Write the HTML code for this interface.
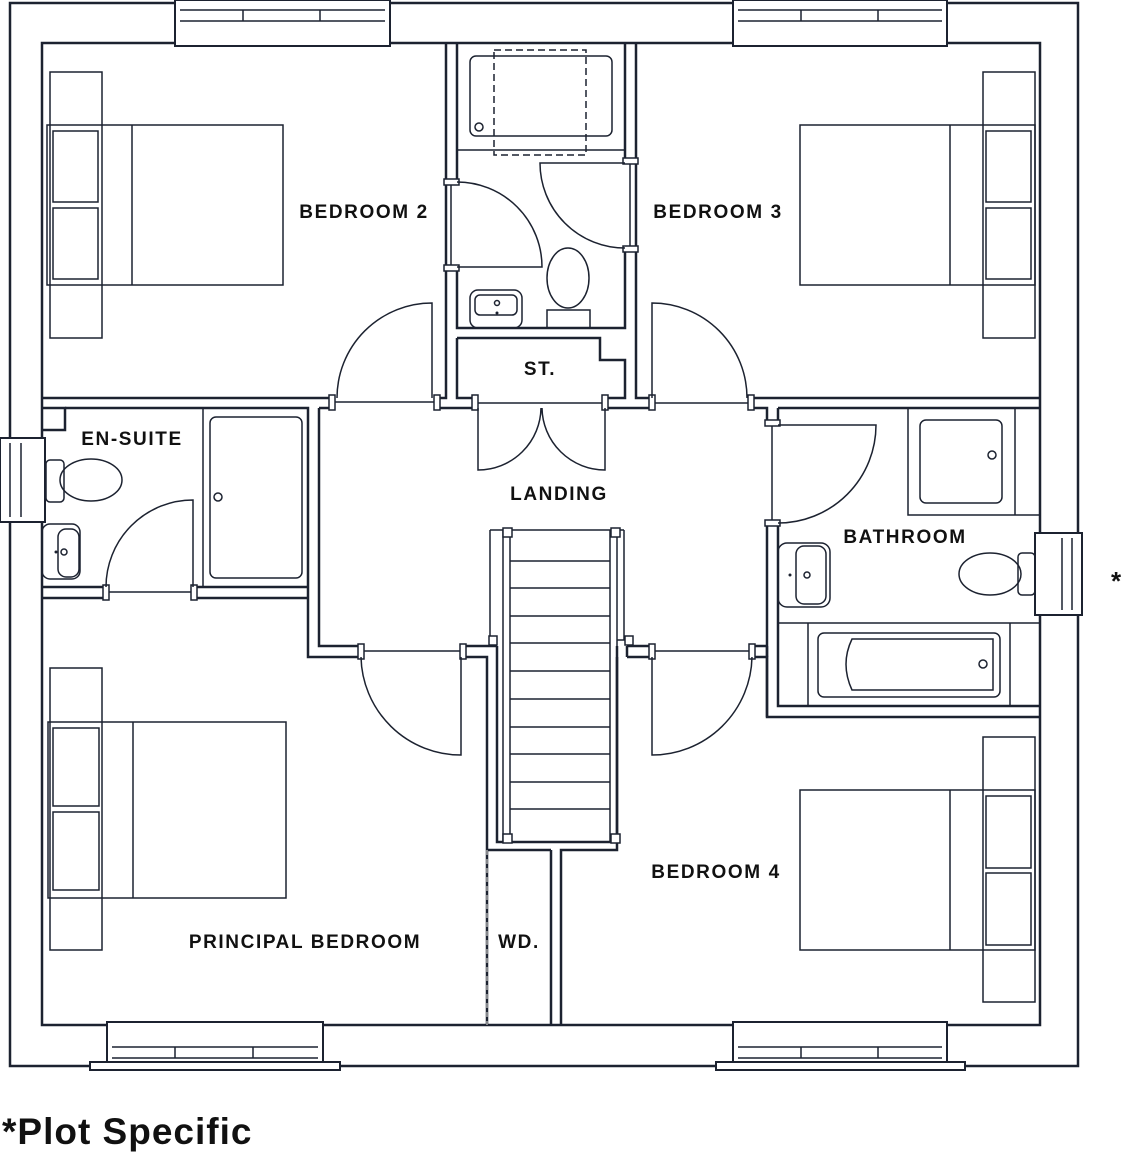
<!DOCTYPE html>
<html><head><meta charset="utf-8"><style>
html,body{margin:0;padding:0;background:#fff;}
svg{display:block;}
text{font-family:"Liberation Sans",Arial,sans-serif;fill:#111;}
.l{font-size:19px;font-weight:bold;letter-spacing:1.6px;}
</style></head><body>
<svg width="1124" height="1156" viewBox="0 0 1124 1156" xmlns="http://www.w3.org/2000/svg">
<g fill="none" stroke="#1c2230" stroke-width="2.5">
<rect x="10" y="3" width="1068" height="1063"/>
<rect x="42" y="43" width="998" height="982"/>
</g>
<g fill="#fff" stroke="#1c2230" stroke-width="2">
<rect x="175" y="0" width="215" height="46"/>
<rect x="733" y="0" width="214" height="46"/>
<rect x="107" y="1022" width="216" height="44"/>
<rect x="90" y="1062" width="250" height="8"/>
<rect x="733" y="1022" width="214" height="44"/>
<rect x="716" y="1062" width="249" height="8"/>
<rect x="0" y="438" width="45" height="84"/>
<rect x="1035" y="533" width="47" height="82"/>
</g>
<g fill="none" stroke="#1c2230" stroke-width="1.5">
<path d="M180 10H385M180 21H385M243 10V21M320 10V21"/>
<path d="M738 10H942M738 21H942M801 10V21M878 10V21"/>
<path d="M112 1047H318M112 1058H318M175 1047V1058M253 1047V1058"/>
<path d="M738 1047H942M738 1058H942M801 1047V1058M878 1047V1058"/>
<path d="M10 443V517M21 443V517"/>
<path d="M1062 538V610M1072 538V610"/>
</g>
<g fill="none" stroke="#1c2230" stroke-width="2.5">
<path d="M42 398H332M437 398H446V43"/>
<path d="M42 408H65V430H42"/>
<path d="M65 408H308V657H361"/>
<path d="M319 408V646H361"/>
<path d="M457 43V182M457 267V328H625V250M625 163V43"/>
<path d="M636 43V398H652M748 398H1040"/>
<path d="M457 338H600V360H625V398H605"/>
<path d="M457 338V398H478"/>
<path d="M319 408H332M437 408H478M605 408H652M748 408H767V425"/>
<path d="M778 408H1040"/>
<path d="M778 408V425M778 522V706H1040"/>
<path d="M767 522V646H752M767 646V717H1040"/>
<path d="M652 646H627M652 657H627"/>
<path d="M767 657V646"/>
<path d="M42 587H106M193 587H308"/>
<path d="M42 598H106M193 598H308"/>
<path d="M465 646H497M465 657H487V1025"/>
<path d="M752 657H767V717"/>
<path d="M617 657V850H561V1025M551 850V1025M487 850H551"/>
<path d="M497 646V842H617V657"/>
<path d="M617 646V657M627 646V657"/>
</g>
<g fill="none" stroke="#1c2230" stroke-width="1.5">
<path d="M487 850V1025" stroke="#aaa" stroke-dasharray="5,4"/>
<path d="M332 402H437M478 403H605M652 403H748M361 651H465M652 651H752M106 592H193M451 182V267M630 163V250M772 425V522"/>
<rect x="329" y="395" width="6" height="15" fill="#fff"/>
<rect x="434" y="395" width="6" height="15" fill="#fff"/>
<rect x="472" y="395" width="6" height="15" fill="#fff"/>
<rect x="602" y="395" width="6" height="15" fill="#fff"/>
<rect x="649" y="395" width="6" height="15" fill="#fff"/>
<rect x="748" y="395" width="6" height="15" fill="#fff"/>
<rect x="358" y="644" width="6" height="15" fill="#fff"/>
<rect x="460" y="644" width="6" height="15" fill="#fff"/>
<rect x="649" y="644" width="6" height="15" fill="#fff"/>
<rect x="749" y="644" width="6" height="15" fill="#fff"/>
<rect x="103" y="585" width="6" height="15" fill="#fff"/>
<rect x="191" y="585" width="6" height="15" fill="#fff"/>
<rect x="444" y="179" width="15" height="6" fill="#fff"/>
<rect x="444" y="265" width="15" height="6" fill="#fff"/>
<rect x="623" y="158" width="15" height="6" fill="#fff"/>
<rect x="623" y="246" width="15" height="6" fill="#fff"/>
<rect x="765" y="420" width="15" height="6" fill="#fff"/>
<rect x="765" y="520" width="15" height="6" fill="#fff"/>
<path d="M432 398V303A95 95 0 0 0 337 398"/>
<path d="M652 398V303A95 95 0 0 1 747 398"/>
<path d="M457 267H542A85 85 0 0 0 457 182"/>
<path d="M625 163H540A85 85 0 0 0 625 248"/>
<path d="M478 408V470A63 63 0 0 0 541 408"/>
<path d="M605 408V470A63 63 0 0 1 542 408"/>
<path d="M778 425H876A98 98 0 0 1 778 523"/>
<path d="M461 657V755A100 100 0 0 1 361 657"/>
<path d="M652 657V755A100 100 0 0 0 752 657"/>
<path d="M193 587V500A87 87 0 0 0 106 587"/>
<rect x="503" y="530" width="114" height="312"/>
<path d="M510 530V842M610 530V842"/>
<path d="M490 530V640H497M490 530H503M624 530H617M624 530V640H617"/>
<path d="M510 561H610M510 588H610M510 616H610M510 643H610M510 671H610M510 699H610M510 727H610M510 754H610M510 782H610M510 809H610"/>
<rect x="503" y="528" width="9" height="9" fill="#fff"/>
<rect x="611" y="528" width="9" height="9" fill="#fff"/>
<rect x="503" y="834" width="9" height="9" fill="#fff"/>
<rect x="611" y="834" width="9" height="9" fill="#fff"/>
<rect x="489" y="636" width="8" height="9" fill="#fff"/>
<rect x="625" y="636" width="8" height="9" fill="#fff"/>
<path d="M457 150H625"/>
<rect x="470" y="56" width="142" height="80" rx="6"/>
<rect x="494" y="50" width="92" height="105" stroke-dasharray="7,4"/>
<circle cx="479" cy="127" r="4"/>
<path d="M547 328V310H590V328"/>
<ellipse cx="568" cy="278" rx="21" ry="30"/>
<rect x="470" y="290" width="52" height="38" rx="8"/>
<rect x="475" y="295" width="42" height="20" rx="5"/>
<circle cx="497" cy="303" r="2.5"/>
<rect x="47" y="125" width="236" height="160"/><path d="M132 125V285"/>
<rect x="50" y="72" width="52" height="266"/>
<rect x="53" y="131" width="45" height="71"/><rect x="53" y="208" width="45" height="71"/>
<rect x="800" y="125" width="235" height="160"/><path d="M950 125V285"/>
<rect x="983" y="72" width="52" height="266"/>
<rect x="986" y="131" width="45" height="71"/><rect x="986" y="208" width="45" height="71"/>
<rect x="48" y="722" width="238" height="176"/><path d="M133 722V898"/>
<rect x="50" y="668" width="52" height="282"/>
<rect x="53" y="728" width="46" height="78"/><rect x="53" y="812" width="46" height="78"/>
<rect x="800" y="790" width="235" height="160"/><path d="M950 790V950"/>
<rect x="983" y="737" width="52" height="265"/>
<rect x="986" y="796" width="45" height="72"/><rect x="986" y="873" width="45" height="72"/>
<path d="M203 408V587"/>
<rect x="210" y="417" width="92" height="161" rx="6"/>
<circle cx="218" cy="497" r="4"/>
<rect x="46" y="460" width="18" height="42" rx="4"/>
<ellipse cx="91" cy="480" rx="31" ry="21"/>
<rect x="42" y="524" width="38" height="55" rx="8"/>
<rect x="58" y="529" width="21" height="48" rx="8"/>
<circle cx="64" cy="552" r="3"/>
<path d="M908 408V515H1040M1015 408V515"/>
<rect x="920" y="420" width="82" height="83" rx="6"/>
<circle cx="992" cy="455" r="4"/>
<rect x="778" y="543" width="52" height="64" rx="9"/>
<rect x="796" y="546" width="30" height="58" rx="8"/>
<circle cx="807" cy="575" r="3"/>
<ellipse cx="990" cy="574" rx="31" ry="21"/>
<rect x="1018" y="553" width="17" height="42" rx="4"/>
<path d="M778 623H1040M808 623V706M1010 623V706"/>
<rect x="818" y="633" width="182" height="64" rx="6"/>
<path d="M852 639H993V690H852Q840 664 852 639Z"/>
<circle cx="983" cy="664" r="4"/>
</g>
<g fill="#1c2230">
<circle cx="497" cy="313" r="1.5"/><circle cx="790" cy="575" r="1.5"/><circle cx="56" cy="552" r="1.5"/>
</g>
<text class="l" x="364" y="218" text-anchor="middle">BEDROOM 2</text>
<text class="l" x="718" y="218" text-anchor="middle">BEDROOM 3</text>
<text class="l" x="540" y="375" text-anchor="middle">ST.</text>
<text class="l" x="132" y="445" text-anchor="middle">EN-SUITE</text>
<text class="l" x="559" y="500" text-anchor="middle">LANDING</text>
<text class="l" x="905" y="543" text-anchor="middle">BATHROOM</text>
<text class="l" x="716" y="878" text-anchor="middle">BEDROOM 4</text>
<text class="l" x="305" y="948" text-anchor="middle">PRINCIPAL BEDROOM</text>
<text class="l" x="519" y="948" text-anchor="middle">WD.</text>
<text x="1116" y="590" text-anchor="middle" style="font-size:26px;font-weight:bold">*</text>
<text x="2" y="1144" style="font-size:37px;font-weight:bold;letter-spacing:1px">*Plot Specific</text>
</svg>
</body></html>
